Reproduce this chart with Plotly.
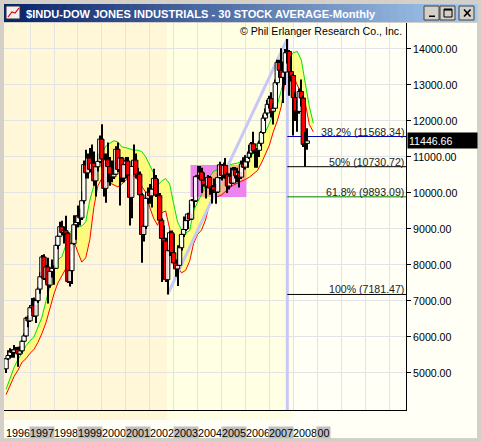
import pandas as pd
import plotly.graph_objects as go

# ---- monthly $INDU candles, Jan 1996 .. Aug 2008 ----
opens = [
    5117, 5395, 5486, 5587, 5569, 5643, 5655, 5529, 5616, 5882, 6029, 6522,
    6448, 6813, 6878, 6584, 7009, 7331, 7673, 8223, 7622, 7945, 7442, 7823,
    7908, 7907, 8546, 8800, 9063, 8900, 8952, 8883, 7539, 7843, 8592, 9117,
    9181, 9359, 9307, 9786, 10789, 10560, 10971, 10655, 10829, 10337, 10729, 10878,
    11497, 10941, 10128, 10922, 10734, 10522, 10448, 10522, 11215, 10651, 10971, 10415,
    10788, 10887, 10495, 9879, 10735, 10912, 10502, 10523, 9950, 8848, 9075, 9852,
    10022, 9920, 10106, 10404, 9946, 9925, 9243, 8737, 8664, 7592, 8397, 8896,
    8342, 8054, 7891, 7992, 8480, 8850, 8985, 9234, 9416, 9275, 9801, 9782,
    10454, 10488, 10584, 10358, 10226, 10188, 10435, 10140, 10174, 10080, 10027, 10428,
    10783, 10490, 10766, 10504, 10193, 10467, 10275, 10641, 10482, 10569, 10440, 10806,
    10718, 10865, 10993, 11109, 11367, 11168, 11150, 11186, 11381, 11679, 12081, 12222,
    12463, 12622, 12269, 12354, 13063, 13628, 13409, 13212, 13358, 13896, 13930, 13372,
    13265, 12650, 12266, 12263, 12820, 12638, 11350, 11378,
]
highs = [
    5405, 5630, 5690, 5660, 5780, 5720, 5730, 5740, 5920, 6100, 6560, 6600,
    6880, 7080, 7100, 7040, 7390, 7800, 8260, 8300, 8000, 8200, 7900, 8150,
    7990, 8560, 8850, 9200, 9230, 9070, 9370, 8900, 8150, 8640, 9380, 9380,
    9650, 9560, 10050, 10900, 11200, 11100, 11250, 11350, 11150, 10800, 11100, 11600,
    11908, 11100, 11100, 11400, 11000, 10900, 10900, 11300, 11400, 10980, 11000, 10900,
    11000, 11000, 10700, 10900, 11350, 11100, 10700, 10600, 10000, 9600, 9900, 10150,
    10250, 10200, 10670, 10500, 10380, 10000, 9300, 9100, 8760, 8550, 8950, 8960,
    8870, 8150, 8550, 8550, 8900, 9350, 9350, 9450, 9700, 9830, 9900, 10460,
    10750, 10750, 10700, 10570, 10300, 10500, 10450, 10200, 10400, 10250, 10500, 10870,
    10800, 10850, 10970, 10570, 10550, 10700, 10720, 10720, 10700, 10600, 10900, 10990,
    11050, 11150, 11330, 11400, 11700, 11200, 11250, 11450, 11700, 12170, 12350, 12580,
    12700, 12800, 12500, 13150, 13700, 13700, 14020, 13650, 14000, 14280, 13950, 13800,
    13300, 12800, 12600, 12900, 13150, 12700, 11700, 11800,
]
lows = [
    5000, 5370, 5420, 5420, 5420, 5590, 5170, 5520, 5580, 5870, 6020, 6270,
    6420, 6710, 6580, 6390, 6970, 7200, 7640, 7600, 7500, 6930, 7370, 7650,
    7450, 7900, 8440, 8800, 8850, 8600, 8840, 7520, 7400, 7470, 8580, 8700,
    9050, 9100, 9270, 9700, 10400, 10400, 10600, 10500, 10200, 9900, 10600, 10850,
    10700, 9900, 9730, 10300, 10200, 10300, 10400, 10500, 10600, 9650, 10300, 10300,
    10400, 10400, 9100, 9300, 10700, 10400, 10150, 9900, 8060, 8650, 9000, 9700,
    9700, 9600, 10100, 9900, 9800, 9100, 7530, 8000, 7550, 7181, 8250, 8200,
    7990, 7670, 7416, 7990, 8400, 8800, 8950, 9000, 9270, 9270, 9600, 9750,
    10400, 10450, 10000, 10200, 9850, 10150, 9950, 9710, 10000, 9700, 10000, 10400,
    10350, 10400, 10400, 10000, 10100, 10250, 10250, 10400, 10300, 10150, 10400, 10700,
    10650, 10700, 10950, 11000, 11100, 10700, 10700, 11000, 11300, 11650, 12000, 12150,
    12350, 12100, 11900, 12350, 13000, 13200, 13200, 12500, 13000, 13600, 12700, 13100,
    11600, 12000, 11700, 12200, 12400, 11300, 10730, 11200,
]
closes = [
    5395, 5486, 5587, 5569, 5643, 5655, 5529, 5616, 5882, 6029, 6522, 6448,
    6813, 6878, 6584, 7009, 7331, 7673, 8223, 7622, 7945, 7442, 7823, 7908,
    7907, 8546, 8800, 9063, 8900, 8952, 8883, 7539, 7843, 8592, 9117, 9181,
    9359, 9307, 9786, 10789, 10560, 10971, 10655, 10829, 10337, 10729, 10878, 11497,
    10941, 10128, 10922, 10734, 10522, 10448, 10522, 11215, 10651, 10971, 10415, 10788,
    10887, 10495, 9879, 10735, 10912, 10502, 10523, 9950, 8848, 9075, 9852, 10022,
    9920, 10106, 10404, 9946, 9925, 9243, 8737, 8664, 7592, 8397, 8896, 8342,
    8054, 7891, 7992, 8480, 8850, 8985, 9234, 9416, 9275, 9801, 9782, 10454,
    10488, 10584, 10358, 10226, 10188, 10435, 10140, 10174, 10080, 10027, 10428, 10783,
    10490, 10766, 10504, 10193, 10467, 10275, 10641, 10482, 10569, 10440, 10806, 10718,
    10865, 10993, 11109, 11367, 11168, 11150, 11186, 11381, 11679, 12081, 12222, 12463,
    12622, 12269, 12354, 13063, 13628, 13409, 13212, 13358, 13896, 13930, 13372, 13265,
    12650, 12266, 12263, 12820, 12638, 11350, 11378, 11446.66,
]

# envelope lines, one reading every 2 months from Jan 1996 (run past the last bar)
band_upper = [
    4550, 4850, 5150, 5380, 5550, 5760, 5900, 6000, 6250, 6550,
    7000, 7450, 7850, 8150, 8230, 8550, 8900, 9030, 9050, 9080,
    9200, 9800, 10200, 10700, 11100, 11300, 11380, 11450, 11420, 11280,
    11260, 11220, 11190, 11190, 11150, 11000, 10750, 10550, 10220, 10330,
    10400, 10250, 9700, 9200, 8970, 8890, 8950, 9500, 9750, 9950,
    10200, 10450, 10600, 10650, 10680, 10720, 10780, 10810, 10830, 10880,
    10940, 10980, 11100, 11390, 11550, 11700, 11940, 12170, 12450, 12850,
    13350, 13750, 13900, 13930, 13700, 13000, 12400, 11940,
]
band_lower = [
    4400, 4650, 4900, 5080, 5300, 5400, 5550, 5650, 5850, 6100,
    6400, 6800, 7200, 7500, 7700, 7900, 8300, 8650, 8350, 8080,
    8200, 8700, 9600, 10200, 10400, 10440, 10280, 10220, 10170, 10250,
    10360, 10450, 10480, 10360, 10180, 10020, 9600, 9300, 9100, 9450,
    9500, 9000, 8350, 7950, 7780, 7850, 8100, 8600, 8850, 8970,
    9250, 9700, 9950, 9900, 9950, 10050, 10140, 10220, 10270, 10330,
    10380, 10440, 10520, 10620, 10830, 11100, 11330, 11700, 12000, 12400,
    13150, 13400, 13250, 13000, 12780, 12500, 11900, 11700,
]

swing_dates = ['2002-10-01', '2007-10-01']
swing_prices = [7181.47, 14279.96]

fib_names = ['38.2%', '50%', '61.8%', '100%']
fib_levels = [11568.34, 10730.72, 9893.09, 7181.47]

box_dates = ['2003-09-15', '2006-01-15']
box_prices = [9890, 10780]

last_price = 11446.66
label_years = ['1996', '1997', '1998', '1999', '2000', '2001', '2002',
               '2003', '2004', '2005', '2006', '2007', '2008', '00']

# ---- styling ----
FONT = 'Liberation Sans, Arial, sans-serif'
W, H = 481, 442
L, R, T, B = 4, 406, 23, 410
X_RANGE = ['1995-11-30', '2012-09-15']
Y_RANGE = [3972, 14722]
DAY = 86400000
BODY_MS = 66 * DAY
WICK_MS = 16 * DAY
UP_FILL = 'rgba(255,255,255,0.82)'
DOWN_FILL = '#ff0000'
FIB_COLORS = ['#0000b0', 'black', '#008000', 'black']
LAVENDER = '#c8c8f6'


def px(x):
    return (x - L) / (R - L)


def py(y):
    return 1 - (y - T) / (B - T)


months = pd.date_range('1996-01-01', periods=len(closes), freq='MS')
band_dates = pd.date_range('1996-01-01', periods=len(band_upper), freq='2MS')

fig = go.Figure()

# envelope band
fig.add_trace(go.Scatter(x=band_dates, y=band_lower, mode='lines',
                         line=dict(color='#ff0000', width=1)))
fig.add_trace(go.Scatter(x=band_dates, y=band_upper, mode='lines', fill='tonexty',
                         fillcolor='rgba(255,255,0,0.42)',
                         line=dict(color='#00e000', width=1)))

# trend line low -> high, then the vertical from the high
fig.add_trace(go.Scatter(x=swing_dates, y=swing_prices, mode='lines',
                         line=dict(color=LAVENDER, width=3)))
fig.add_trace(go.Scatter(x=[swing_dates[1], swing_dates[1]], y=[swing_prices[1], Y_RANGE[0]],
                         mode='lines', line=dict(color=LAVENDER, width=3)))

# retracement lines
for lvl, col in zip(fib_levels, FIB_COLORS):
    fig.add_trace(go.Scatter(x=[swing_dates[1], X_RANGE[1]], y=[lvl, lvl], mode='lines',
                             line=dict(color=col, width=1)))

# candles: one bar trace (upper wick, lower wick, body) so that later months cover earlier ones
bx, bbase, bh, bw, bcol, blw = [], [], [], [], [], []
for d, o, h, l, c in zip(months, opens, highs, lows, closes):
    top, bot = max(o, c), min(o, c)
    bx += [d, d, d]
    bbase += [top, l, bot]
    bh += [h - top, bot - l, max(top - bot, 25)]
    bw += [WICK_MS, WICK_MS, BODY_MS]
    bcol += ['black', 'black', UP_FILL if c >= o else DOWN_FILL]
    blw += [0, 0, 1]

fig.add_trace(go.Bar(x=bx, y=bh, base=bbase, width=bw, xaxis='x2', yaxis='y2',
                     marker=dict(color=bcol, line=dict(color='black', width=blw))))

shapes = []
# window client area and phase shading
shapes.append(dict(type='rect', xref='paper', yref='paper', x0=px(4), x1=px(477),
                   y0=py(438), y1=py(23), fillcolor='#fffff5', line=dict(width=0), layer='below'))
shapes.append(dict(type='rect', xref='paper', yref='paper', x0=px(4), x1=px(167),
                   y0=py(420), y1=py(23), fillcolor='#fff7d8', line=dict(width=0), layer='below'))
shapes.append(dict(type='rect', xref='paper', yref='paper', x0=px(167), x1=px(292),
                   y0=py(420), y1=py(23), fillcolor='#ffffe4', line=dict(width=0), layer='below'))
# highlighted consolidation box
shapes.append(dict(type='rect', xref='x', yref='y', x0=box_dates[0], x1=box_dates[1],
                   y0=box_prices[0], y1=box_prices[1], fillcolor='#ee82ee',
                   line=dict(width=0), layer='between'))

# title bar gradient
n = 60
x_a, x_b = 4, 477
for i in range(n):
    t = i / (n - 1)
    col = 'rgb(%d,%d,%d)' % (10 + 156 * t, 36 + 166 * t, 106 + 134 * t)
    shapes.append(dict(type='rect', xref='paper', yref='paper',
                       x0=px(x_a + (x_b - x_a) * i / n), x1=px(x_a + (x_b - x_a) * (i + 1) / n + 0.6),
                       y0=py(22), y1=py(4), fillcolor=col, line=dict(width=0), layer='below'))

# caption buttons
for x0, x1 in [(424, 440), (440, 456), (459, 475)]:
    shapes.append(dict(type='rect', xref='paper', yref='paper', x0=px(x0), x1=px(x1 - 1),
                       y0=py(20), y1=py(6), fillcolor='#d4d0c8',
                       line=dict(color='#404040', width=1), layer='above'))
shapes.append(dict(type='rect', xref='paper', yref='paper', x0=px(429), x1=px(435),
                   y0=py(17), y1=py(15.5), fillcolor='black', line=dict(width=0)))
shapes.append(dict(type='rect', xref='paper', yref='paper', x0=px(444), x1=px(452),
                   y0=py(17), y1=py(9), fillcolor='rgba(0,0,0,0)', line=dict(color='black', width=1)))
shapes.append(dict(type='line', xref='paper', yref='paper', x0=px(444), x1=px(452),
                   y0=py(9.8), y1=py(9.8), line=dict(color='black', width=1.5)))
for ya, yb in [(9.5, 16.5), (16.5, 9.5)]:
    shapes.append(dict(type='line', xref='paper', yref='paper', x0=px(464), x1=px(470.5),
                       y0=py(ya), y1=py(yb), line=dict(color='black', width=1.6)))

# little chart icon
shapes.append(dict(type='rect', xref='paper', yref='paper', x0=px(6), x1=px(20),
                   y0=py(19), y1=py(6), fillcolor='#f0f0f0', line=dict(color='#303030', width=1)))
shapes.append(dict(type='path', xref='paper', yref='paper',
                   path='M %f %f L %f %f L %f %f L %f %f' % (px(8), py(17), px(12), py(12),
                                                             px(15), py(13), px(19), py(8)),
                   line=dict(color='#e00000', width=1.2)))

annotations = []
annotations.append(dict(xref='paper', yref='paper', x=px(24), y=py(13.5), xanchor='left',
                        yanchor='middle', showarrow=False,
                        text='<b>$INDU-DOW JONES INDUSTRIALS - 30 STOCK AVERAGE-Monthly</b>',
                        font=dict(family=FONT, size=11.1, color='white')))
annotations.append(dict(xref='paper', yref='paper', x=px(404), y=py(30.5), xanchor='right',
                        yanchor='middle', showarrow=False,
                        text='\u00a9 Phil Erlanger Research Co., Inc.',
                        font=dict(family=FONT, size=10.6, color='black')))
for name, lvl in zip(fib_names, fib_levels):
    annotations.append(dict(xref='x domain', yref='y', x=1, y=lvl, xanchor='right',
                            yanchor='middle', yshift=5, xshift=0, showarrow=False,
                            text='%s (%.2f)' % (name, lvl),
                            font=dict(family=FONT, size=10.6, color='#222222')))
annotations.append(dict(xref='x domain', yref='y', x=1, y=last_price, xanchor='left',
                        yanchor='middle', xshift=1, showarrow=False, align='left',
                        text='%.2f' % last_price, bgcolor='black', width=67, height=13,
                        borderpad=1, font=dict(family=FONT, size=10.6, color='white')))
for i, lab in enumerate(label_years):
    year = 1996 + i
    annotations.append(dict(xref='x', yref='paper', x='%d-01-01' % year, y=py(432),
                            xanchor='left', yanchor='middle', xshift=-1, showarrow=False,
                            text=lab, width=24 if len(lab) == 4 else 13, height=11, borderpad=0,
                            bgcolor='#c0c0c0' if year % 2 == 1 else 'rgba(0,0,0,0)',
                            font=dict(family=FONT, size=10.8, color='black')))

fig.update_layout(
    width=W, height=H,
    margin=dict(l=L, r=W - R, t=T, b=H - B, pad=0),
    paper_bgcolor='#d4d0c8', plot_bgcolor='rgba(0,0,0,0)',
    showlegend=False, barmode='overlay', hovermode=False,
    font=dict(family=FONT, size=10.6, color='black'),
    shapes=shapes, annotations=annotations,
    xaxis=dict(type='date', range=X_RANGE, tickvals=['%d-01-01' % y for y in range(1997, 2013)],
               showticklabels=False, ticks='', showgrid=True, gridcolor='#e3e3e3',
               showline=True, linecolor='black', linewidth=1, zeroline=False),
    yaxis=dict(side='right', range=Y_RANGE, tickvals=list(range(5000, 15000, 1000)),
               tickformat='.2f', ticks='outside', ticklen=4, tickcolor='black',
               showgrid=True, gridcolor='#e3e3e3', showline=True, linecolor='black',
               linewidth=1, zeroline=False, tickfont=dict(family=FONT, size=10.6)),
    xaxis2=dict(type='date', range=X_RANGE, overlaying='x', visible=False),
    yaxis2=dict(range=Y_RANGE, overlaying='y', visible=False),
)

fig.write_html('out.html', config={'displayModeBar': False},
               post_script="document.body.style.margin='0';document.body.style.overflow='hidden';")
